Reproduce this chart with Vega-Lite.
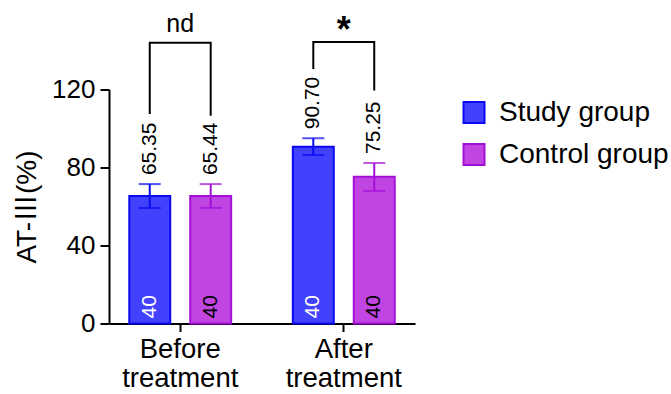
{
  "$schema": "https://vega.github.io/schema/vega-lite/v6.json",
  "width": 306,
  "height": 234,
  "autosize": {"type": "none"},
  "padding": {"left": 109, "top": 89.5, "right": 256, "bottom": 70.5},
  "background": "white",
  "config": {
    "view": {"stroke": null},
    "font": "Liberation Sans",
    "axis": {"grid": false, "domainColor": "black", "domainWidth": 2, "tickColor": "black", "tickWidth": 2, "labelColor": "black", "titleColor": "black", "labelFont": "Liberation Sans", "titleFont": "Liberation Sans, Noto Sans CJK SC"}
  },
  "datasets": {
    "bars": [
      {"time": "Before treatment", "group": "Study group", "mean": 65.35, "lower": 59.2, "upper": 71.5, "n": 40},
      {"time": "Before treatment", "group": "Control group", "mean": 65.44, "lower": 59.3, "upper": 71.5, "n": 40},
      {"time": "After treatment", "group": "Study group", "mean": 90.70, "lower": 86.4, "upper": 95.0, "n": 40},
      {"time": "After treatment", "group": "Control group", "mean": 75.25, "lower": 68.0, "upper": 82.3, "n": 40}
    ],
    "brackets": [
      {"time": "Before treatment", "group": "Study group", "y": 108, "step": 1},
      {"time": "Before treatment", "group": "Study group", "y": 144, "step": 2},
      {"time": "Before treatment", "group": "Control group", "y": 144, "step": 3},
      {"time": "Before treatment", "group": "Control group", "y": 107, "step": 4},
      {"time": "After treatment", "group": "Study group", "y": 131, "step": 1},
      {"time": "After treatment", "group": "Study group", "y": 144.3, "step": 2},
      {"time": "After treatment", "group": "Control group", "y": 144.3, "step": 3},
      {"time": "After treatment", "group": "Control group", "y": 120, "step": 4}
    ]
  },
  "encoding": {
    "x": {
      "field": "time",
      "type": "nominal",
      "sort": ["Before treatment", "After treatment"],
      "scale": {"paddingInner": 0.377, "paddingOuter": 0.124},
      "axis": {"title": null, "labelAngle": 0, "labelFontSize": 27.5, "labelExpr": "split(datum.label, ' ')", "labelLineHeight": 29, "tickSize": 8, "labelPadding": 4}
    }
  },
  "layer": [
    {
      "data": {"name": "bars"},
      "mark": {"type": "bar", "strokeWidth": 2},
      "encoding": {
        "xOffset": {"field": "group", "type": "nominal", "sort": ["Study group", "Control group"], "scale": {"paddingInner": 0.328, "paddingOuter": 0}},
        "y": {
          "field": "mean",
          "type": "quantitative",
          "scale": {"domain": [0, 120], "nice": false},
          "axis": {"title": "AT-Ⅲ(%)", "titleFontSize": 28, "titleFontWeight": "normal", "titlePadding": 10, "values": [0, 40, 80, 120], "labelFontSize": 26, "tickSize": 9, "labelPadding": 5}
        },
        "fill": {
          "field": "group",
          "type": "nominal",
          "scale": {"domain": ["Study group", "Control group"], "range": ["#4141FE", "#C145E3"]},
          "legend": {"title": null, "orient": "none", "legendX": 351, "legendY": 9, "symbolType": "square", "symbolSize": 441, "symbolStrokeWidth": 2, "labelFontSize": 28, "labelOffset": 11, "rowPadding": 12, "labelLimit": 400, "labelColor": "black", "labelFont": "Liberation Sans"}
        },
        "stroke": {
          "field": "group",
          "type": "nominal",
          "scale": {"domain": ["Study group", "Control group"], "range": ["#0A0AF0", "#A30FD6"]},
          "legend": {"title": null, "orient": "none", "legendX": 351, "legendY": 9, "symbolType": "square", "symbolSize": 441, "symbolStrokeWidth": 2, "labelFontSize": 28, "labelOffset": 11, "rowPadding": 12, "labelLimit": 400, "labelColor": "black", "labelFont": "Liberation Sans"}
        }
      }
    },
    {
      "data": {"name": "bars"},
      "mark": {"type": "rule", "strokeWidth": 2},
      "encoding": {
        "xOffset": {"field": "group", "type": "nominal", "sort": ["Study group", "Control group"]},
        "y": {"field": "lower", "type": "quantitative"},
        "y2": {"field": "upper"},
        "stroke": {"field": "group", "type": "nominal"}
      }
    },
    {
      "data": {"name": "bars"},
      "mark": {"type": "tick", "thickness": 2, "size": 22},
      "encoding": {
        "xOffset": {"field": "group", "type": "nominal", "sort": ["Study group", "Control group"]},
        "y": {"field": "upper", "type": "quantitative"},
        "color": {"field": "group", "type": "nominal", "scale": {"domain": ["Study group", "Control group"], "range": ["#0A0AF0", "#A30FD6"]}, "legend": null}
      }
    },
    {
      "data": {"name": "bars"},
      "mark": {"type": "tick", "thickness": 2, "size": 22},
      "encoding": {
        "xOffset": {"field": "group", "type": "nominal", "sort": ["Study group", "Control group"]},
        "y": {"field": "lower", "type": "quantitative"},
        "color": {"field": "group", "type": "nominal", "legend": null}
      }
    },
    {
      "data": {"name": "bars"},
      "mark": {"type": "text", "angle": -90, "align": "left", "baseline": "middle", "dx": 9, "fontSize": 21, "color": "black"},
      "encoding": {
        "xOffset": {"field": "group", "type": "nominal", "sort": ["Study group", "Control group"]},
        "y": {"field": "upper", "type": "quantitative"},
        "text": {"field": "mean", "type": "quantitative", "format": ".2f"}
      }
    },
    {
      "data": {"name": "bars"},
      "mark": {"type": "text", "angle": -90, "align": "left", "baseline": "middle", "dx": 5, "fontSize": 21},
      "encoding": {
        "xOffset": {"field": "group", "type": "nominal", "sort": ["Study group", "Control group"]},
        "y": {"datum": 0, "type": "quantitative"},
        "text": {"field": "n", "type": "quantitative"},
        "color": {"condition": {"test": "datum.group === 'Study group'", "value": "white"}, "value": "black"}
      }
    },
    {
      "data": {"name": "brackets"},
      "mark": {"type": "line", "color": "black", "strokeWidth": 2, "strokeCap": "square", "interpolate": "linear"},
      "encoding": {
        "xOffset": {"field": "group", "type": "nominal", "sort": ["Study group", "Control group"]},
        "y": {"field": "y", "type": "quantitative"},
        "detail": {"field": "time", "type": "nominal"},
        "order": {"field": "step", "type": "quantitative"}
      }
    },
    {
      "data": {"values": [{"time": "Before treatment", "label": "nd", "y": 149.6}]},
      "mark": {"type": "text", "baseline": "alphabetic", "align": "center", "fontSize": 25, "color": "black"},
      "encoding": {
        "y": {"field": "y", "type": "quantitative"},
        "text": {"field": "label"}
      }
    },
    {
      "data": {"values": [{"time": "After treatment", "label": "*", "y": 144.4}]},
      "mark": {"type": "text", "baseline": "alphabetic", "align": "center", "fontSize": 36, "fontWeight": "bold", "color": "black"},
      "encoding": {
        "y": {"field": "y", "type": "quantitative"},
        "text": {"field": "label"}
      }
    }
  ]
}
